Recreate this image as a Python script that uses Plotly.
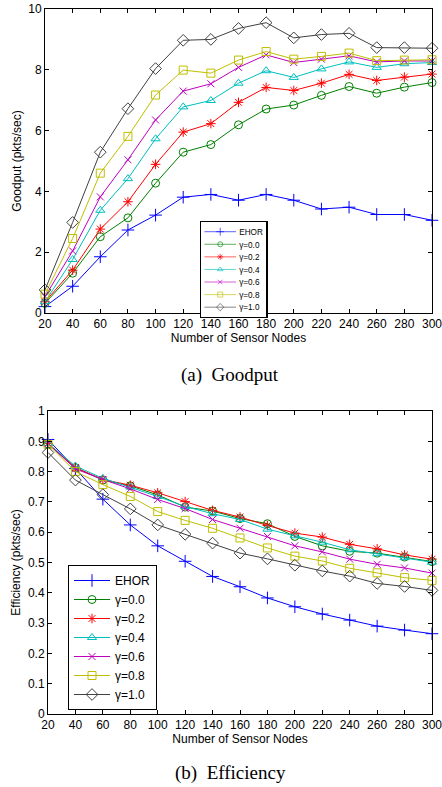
import plotly.graph_objects as go

nodes = [20, 40, 60, 80, 100, 120, 140, 160, 180, 200, 220, 240, 260, 280, 300]

series_names = ["EHOR", "γ=0.0", "γ=0.2", "γ=0.4", "γ=0.6", "γ=0.8", "γ=1.0"]

goodput_ehor = [0.21, 0.88, 1.85, 2.73, 3.22, 3.81, 3.90, 3.71, 3.90, 3.71, 3.42, 3.48, 3.24, 3.24, 3.05]
goodput_g00 = [0.32, 1.31, 2.51, 3.13, 4.27, 5.29, 5.54, 6.19, 6.71, 6.84, 7.16, 7.45, 7.23, 7.43, 7.58]
goodput_g02 = [0.37, 1.41, 2.76, 3.66, 4.89, 5.95, 6.23, 6.93, 7.42, 7.32, 7.56, 7.85, 7.65, 7.76, 7.86]
goodput_g04 = [0.37, 1.76, 3.38, 4.42, 5.73, 6.78, 6.99, 7.56, 7.97, 7.75, 8.03, 8.26, 8.08, 8.20, 8.24]
goodput_g06 = [0.54, 2.04, 3.82, 5.04, 6.35, 7.30, 7.54, 8.08, 8.49, 8.24, 8.35, 8.46, 8.26, 8.29, 8.29]
goodput_g08 = [0.62, 2.45, 4.60, 5.81, 7.17, 7.99, 7.89, 8.32, 8.60, 8.35, 8.44, 8.55, 8.30, 8.32, 8.33]
goodput_g10 = [0.76, 2.98, 5.29, 6.72, 8.04, 8.97, 9.00, 9.36, 9.55, 9.05, 9.16, 9.20, 8.73, 8.73, 8.71]

eff_ehor = [0.906, 0.810, 0.709, 0.624, 0.555, 0.504, 0.454, 0.420, 0.383, 0.354, 0.330, 0.310, 0.290, 0.277, 0.265]
eff_g00 = [0.891, 0.813, 0.772, 0.753, 0.723, 0.683, 0.670, 0.645, 0.628, 0.586, 0.555, 0.537, 0.531, 0.518, 0.503]
eff_g02 = [0.893, 0.813, 0.774, 0.755, 0.730, 0.701, 0.672, 0.650, 0.622, 0.597, 0.584, 0.560, 0.545, 0.525, 0.511]
eff_g04 = [0.893, 0.818, 0.778, 0.749, 0.718, 0.685, 0.661, 0.642, 0.610, 0.588, 0.567, 0.542, 0.529, 0.516, 0.501]
eff_g06 = [0.893, 0.809, 0.774, 0.743, 0.708, 0.678, 0.642, 0.613, 0.586, 0.555, 0.535, 0.511, 0.494, 0.482, 0.465]
eff_g08 = [0.890, 0.800, 0.757, 0.718, 0.668, 0.639, 0.613, 0.581, 0.548, 0.521, 0.505, 0.481, 0.466, 0.450, 0.441]
eff_g10 = [0.863, 0.772, 0.724, 0.677, 0.624, 0.593, 0.564, 0.531, 0.512, 0.491, 0.472, 0.455, 0.431, 0.421, 0.408]

goodput_series = [goodput_ehor, goodput_g00, goodput_g02, goodput_g04, goodput_g06, goodput_g08, goodput_g10]
eff_series = [eff_ehor, eff_g00, eff_g02, eff_g04, eff_g06, eff_g08, eff_g10]

x_ticks = nodes
goodput_ticks = [0, 2, 4, 6, 8, 10]
eff_ticks = [0, 0.1, 0.2, 0.3, 0.4, 0.5, 0.6, 0.7, 0.8, 0.9, 1.0]
eff_tick_labels = ["0", "0.1", "0.2", "0.3", "0.4", "0.5", "0.6", "0.7", "0.8", "0.9", "1"]

colors = ["#0000FF", "#008000", "#FF0000", "#00BFBF", "#BF00BF", "#BFBF00", "#404040"]
symbols = ["cross-thin-open", "circle-open", "asterisk-open", "triangle-up-open",
           "x-thin-open", "square-open", "diamond-open"]
sizes = [9, 8, 8, 8, 7, 8, 9]

W, H = 442, 787
fig = go.Figure()

for i, name in enumerate(series_names):
    mk = dict(symbol=symbols[i], size=sizes[i], color=colors[i],
              line=dict(color=colors[i], width=1))
    fig.add_trace(go.Scatter(x=nodes, y=goodput_series[i], name=name, mode="lines+markers",
                             line=dict(color=colors[i], width=1), marker=mk, cliponaxis=False,
                             xaxis="x", yaxis="y", legend="legend"))
for i, name in enumerate(series_names):
    mk = dict(symbol=symbols[i], size=sizes[i], color=colors[i],
              line=dict(color=colors[i], width=1))
    fig.add_trace(go.Scatter(x=nodes, y=eff_series[i], name=name, mode="lines+markers",
                             line=dict(color=colors[i], width=1), marker=mk, cliponaxis=False,
                             xaxis="x2", yaxis="y2", legend="legend2"))

tickfont = dict(family="Liberation Sans, Arial, sans-serif", size=12, color="#000")
axis_common = dict(showline=True, linecolor="#000", linewidth=1, mirror="ticks",
                   ticks="inside", ticklen=4, tickcolor="#000", tickwidth=1,
                   showgrid=False, zeroline=False, tickfont=tickfont,
                   automargin=False, ticklabeloverflow="allow")
title_font = dict(family="Liberation Sans, Arial, sans-serif", size=12, color="#000")

fig.update_layout(
    width=W, height=H,
    margin=dict(l=0, r=0, t=0, b=0),
    paper_bgcolor="white", plot_bgcolor="white",
    showlegend=True,
    xaxis=dict(domain=[45 / W, 432 / W], anchor="y", range=[20, 300],
               tickvals=x_ticks, title=dict(text="Number of Sensor Nodes", font=title_font, standoff=2),
               **axis_common),
    yaxis=dict(domain=[1 - 313 / H, 1 - 9 / H], anchor="x", range=[0, 10],
               tickvals=goodput_ticks, title=dict(text="Goodput (pkts/sec)", font=title_font, standoff=4),
               **axis_common),
    xaxis2=dict(domain=[48 / W, 432 / W], anchor="y2", range=[20, 300],
                tickvals=x_ticks, title=dict(text="Number of Sensor Nodes", font=title_font, standoff=2),
                **axis_common),
    yaxis2=dict(domain=[1 - 714 / H, 1 - 411 / H], anchor="x2", range=[0, 1],
                tickvals=eff_ticks, ticktext=eff_tick_labels,
                title=dict(text="Efficiency (pkts/sec)", font=title_font, standoff=4),
                **axis_common),
    legend=dict(x=200 / W, y=1 - 221 / H, xanchor="left", yanchor="top",
                bgcolor="white", bordercolor="#000", borderwidth=2,
                font=dict(family="Liberation Sans, Arial, sans-serif", size=13, color="#000"),
                itemwidth=50, tracegroupgap=0),
    legend2=dict(x=68 / W, y=1 - 565 / H, xanchor="left", yanchor="top",
                 bgcolor="white", bordercolor="#000", borderwidth=1,
                 font=dict(family="Liberation Sans, Arial, sans-serif", size=12, color="#000"),
                 itemwidth=36, tracegroupgap=0),
    annotations=[
        dict(text="(a)\u00a0\u00a0Goodput", x=230 / W, y=1 - 375 / H, xref="paper", yref="paper",
             showarrow=False, xanchor="center", yanchor="middle",
             font=dict(family="Liberation Serif, Times New Roman, serif", size=19, color="#000")),
        dict(text="(b)\u00a0\u00a0Efficiency", x=230 / W, y=1 - 773 / H, xref="paper", yref="paper",
             showarrow=False, xanchor="center", yanchor="middle",
             font=dict(family="Liberation Serif, Times New Roman, serif", size=19, color="#000")),
    ],
)

# Remove the default page margin, and shrink the top (inset) legend so its
# compact 12px rows match the original figure.
post = """
document.body.style.margin = '0';
document.body.style.overflow = 'hidden';
var gd = document.getElementById('{plot_id}');
function shrinkLegend() {
  var g = gd.querySelector('g.legend');
  if (!g) return;
  var t = g.getAttribute('transform') || '';
  if (t.indexOf('scale') < 0) g.setAttribute('transform', t + ' scale(0.632)');
}
shrinkLegend();
gd.on('plotly_afterplot', shrinkLegend);
"""

fig.write_html("out.html", post_script=post, config={"displayModeBar": False})
